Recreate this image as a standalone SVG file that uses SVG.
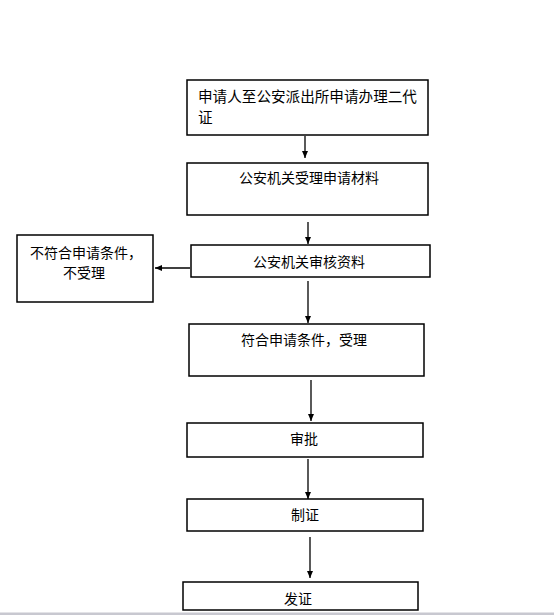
<svg xmlns="http://www.w3.org/2000/svg" width="554" height="615" viewBox="0 0 554 615">
<style>
.box{fill:#fff;stroke:#000;stroke-width:1.5}
.t{font-family:"Liberation Sans","Noto Sans CJK SC",sans-serif;font-size:14px;fill:#000}
.c{stroke:#000;stroke-width:1.3;fill:none;marker-end:url(#ah)}
</style>
<defs>
<marker id="ah" viewBox="0 0 7 7" refX="7" refY="3.5" markerWidth="7" markerHeight="7" markerUnits="userSpaceOnUse" orient="auto">
<path d="M0,0.5 L7,3.5 L0,6.5 Z" fill="#000"/>
</marker>
</defs>
<rect x="0" y="0" width="554" height="615" fill="#fff"/>
<rect x="0" y="612.5" width="554" height="2.5" fill="#c8c8d0"/>
<g id="connectors">
<line class="c" x1="305" y1="136" x2="305" y2="158"/>
<line class="c" x1="308" y1="222" x2="308" y2="244"/>
<line class="c" x1="190" y1="268" x2="155" y2="268"/>
<line class="c" x1="308" y1="281" x2="308" y2="323"/>
<line class="c" x1="311" y1="380" x2="311" y2="421"/>
<line class="c" x1="308" y1="459" x2="308" y2="499"/>
<line class="c" x1="310" y1="537" x2="310" y2="578"/>
</g>
<g id="n1">
<rect class="box" x="187" y="80" width="241" height="55"/>
<text class="t" x="198" y="102" style="font-size:14.6px">申请人至公安派出所申请办理二代</text>
<text class="t" x="198" y="123" style="font-size:14.6px">证</text>
</g>
<g id="n2">
<rect class="box" x="187" y="163" width="241" height="52"/>
<text class="t" x="239" y="183">公安机关受理申请材料</text>
</g>
<g id="n3">
<rect class="box" x="191" y="245" width="239" height="32"/>
<text class="t" x="253" y="267">公安机关审核资料</text>
</g>
<g id="n4">
<rect class="box" x="17" y="235" width="136" height="67"/>
<text class="t" x="30" y="258">不符合申请条件，</text>
<text class="t" x="63" y="278">不受理</text>
</g>
<g id="n5">
<rect class="box" x="189" y="324" width="235" height="52"/>
<text class="t" x="241" y="345">符合申请条件，受理</text>
</g>
<g id="n6">
<rect class="box" x="187" y="423" width="236" height="34"/>
<text class="t" x="290" y="444">审批</text>
</g>
<g id="n7">
<rect class="box" x="187" y="499" width="236" height="32"/>
<text class="t" x="291" y="520">制证</text>
</g>
<g id="n8">
<rect class="box" x="183" y="582" width="235" height="28"/>
<text class="t" x="284" y="604">发证</text>
</g>
</svg>
